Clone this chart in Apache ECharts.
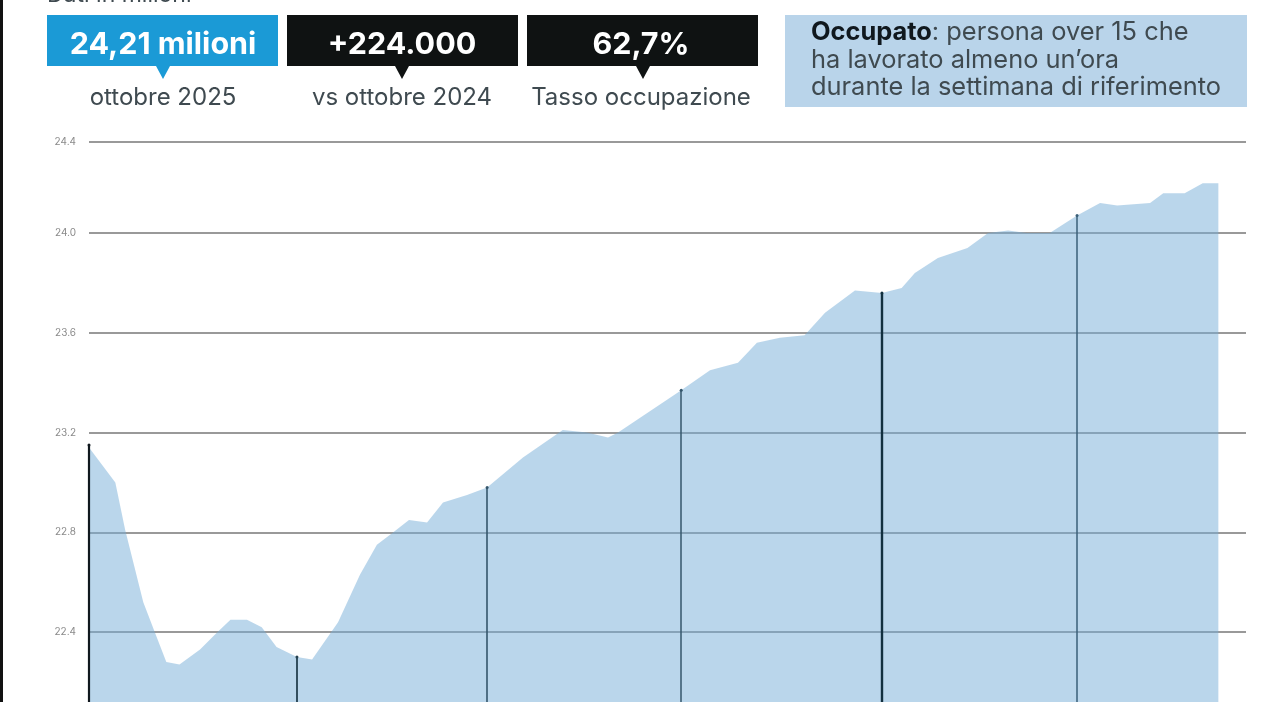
<!DOCTYPE html>
<html>
<head>
<meta charset="utf-8">
<title>Occupati in Italia</title>
<script src="https://cdn.jsdelivr.net/npm/echarts@6/dist/echarts.min.js"></script>
<style>
	html, body { margin: 0; padding: 0; background: #fff; }
	#main { width: 1280px; height: 702px; }
</style>
</head>
<body>
<div id="main"></div>
<script>
// mesi dall'inizio del 2020, come
var months = [0, 1.6, 2.2, 3.3, 4.0, 4.7, 5.5, 6.75, 7.8, 8.6, 9.6, 10.5, 11.4, 12.64, 13.56, 15.14, 16.47, 17.5, 18.48, 19.45, 20.55, 21.52, 22.98, 24.2, 26.38, 28.8, 30.27, 31.55, 32.16, 36.0, 37.75, 39.45, 40.6, 42.0, 43.5, 44.74, 46.56, 48.2, 49.4, 50.2, 51.6, 53.4, 54.65, 55.87, 57.0, 58.4, 60.06, 61.46, 62.5, 64.5, 65.3, 66.6, 67.7, 68.65];
// occupati, milioni
var occupati = [23.14, 23.00, 22.81, 22.52, 22.40, 22.28, 22.27, 22.33, 22.40, 22.45, 22.45, 22.42, 22.34, 22.30, 22.29, 22.44, 22.63, 22.75, 22.80, 22.85, 22.84, 22.92, 22.95, 22.98, 23.10, 23.21, 23.20, 23.18, 23.20, 23.37, 23.45, 23.48, 23.56, 23.58, 23.59, 23.68, 23.77, 23.76, 23.78, 23.84, 23.90, 23.94, 24.00, 24.01, 24.00, 24.00, 24.07, 24.12, 24.11, 24.12, 24.16, 24.16, 24.20, 24.20];
// linee verticali di inizio anno
var yearMonths = [0, 12.64, 24.2, 36.0, 48.2, 60.06];
var yearTops = [23.15, 22.30, 22.98, 23.37, 23.76, 24.07];
var yearWidths = [2.2, 1.8, 1.6, 1.5, 2.4, 1.5];
var yearColors = ['#10181e', '#24404f', '#35566b', '#35566b', '#12303f', '#3a5f78'];
// tacche asse y (la riga in alto e' piu' vicina alle altre nell'originale)
var yTicks = [22.4, 22.8, 23.2, 23.6, 24.0, 24.365];

var yMin = 22.12;
var yMax = 24.365;

var seriesData = [];
for (var i = 0; i < months.length; i++) {
	seriesData.push([months[i], occupati[i]]);
}
var yearLines = [];
for (var k = 0; k < yearMonths.length; k++) {
	yearLines.push([
		{ coord : [yearMonths[k], yMin], symbol : 'none' },
		{
			coord : [yearMonths[k], yearTops[k]],
			symbol : 'circle',
			symbolSize : 3,
			lineStyle : { color : yearColors[k], width : yearWidths[k], type : 'solid' },
			itemStyle : { color : yearColors[k] }
		}
	]);
}

var fontName = 'Inter, "Noto Sans", sans-serif';

function boxText(x, txt) {
	return {
		type : 'text', x : x, y : 45, z : 10,
		style : { text : txt, font : 'bold 30.5px ' + fontName, fill : '#fff', align : 'center', verticalAlign : 'middle' }
	};
}
function captionText(x, txt) {
	return {
		type : 'text', x : x, y : 98, z : 10,
		style : { text : txt, font : '24px ' + fontName, fill : '#3f4a50', align : 'center', verticalAlign : 'middle' }
	};
}
function box(x, w, color) {
	return { type : 'rect', shape : { x : x, y : 15, width : w, height : 51 }, style : { fill : color }, z : 9 };
}
function notch(x, color) {
	return { type : 'polygon', shape : { points : [[x - 7, 66], [x + 7, 66], [x, 79]] }, style : { fill : color }, z : 9 };
}

var myChart = echarts.init(document.getElementById('main'), null, { renderer : 'canvas' });
var option = {
	animation : false,
	backgroundColor : '#fff',
	grid : { left : 89, right : 34, top : 142, bottom : 0 },
	xAxis : {
		type : 'value',
		min : 0,
		max : 70.33,
		show : false
	},
	yAxis : {
		type : 'value',
		min : yMin,
		max : yMax,
		axisLine : { show : false },
		axisTick : { show : false, customValues : yTicks },
		axisLabel : {
			customValues : yTicks,
			margin : 13,
			fontSize : 10,
			fontFamily : fontName,
			color : '#8a8a8a',
			formatter : function(v) { return v.toFixed(1); }
		},
		splitLine : { show : true, lineStyle : { color : '#777', width : 1.5 } }
	},
	series : [
		{
			name : 'Occupati',
			type : 'line',
			data : seriesData,
			showSymbol : false,
			symbol : 'none',
			lineStyle : { width : 0 },
			areaStyle : { color : 'rgba(117,173,215,0.5)', opacity : 1, origin : 'start' },
			markLine : {
				silent : true,
				animation : false,
				label : { show : false },
				data : yearLines
			}
		}
	],
	graphic : [
		{ type : 'rect', shape : { x : 0, y : 0, width : 3, height : 702 }, style : { fill : '#111' } },
		{
			type : 'text', x : 47, y : -5,
			style : { text : 'Dati in milioni', font : '23px ' + fontName, fill : '#3f4a50', verticalAlign : 'middle' }
		},
		box(47, 231, '#1b9ad6'), notch(163, '#1b9ad6'),
		box(287, 231, '#0f1212'), notch(402, '#0f1212'),
		box(527, 231, '#0f1212'), notch(643, '#0f1212'),
		boxText(163, '24,21 milioni'),
		boxText(402, '+224.000'),
		boxText(641, '62,7%'),
		captionText(163, 'ottobre 2025'),
		captionText(402, 'vs ottobre 2024'),
		captionText(641, 'Tasso occupazione'),
		{ type : 'rect', shape : { x : 785, y : 15, width : 462, height : 92 }, style : { fill : '#b9d4ea' }, z : 9 },
		{
			type : 'text', x : 811, y : 19, z : 10,
			style : {
				text : '{b|Occupato}: persona over 15 che\nha lavorato almeno un\u2019ora\ndurante la settimana di riferimento',
				font : '25.4px ' + fontName,
				fill : '#3f4a50',
				lineHeight : 27.5,
				rich : {
					b : { font : 'bold 25.4px ' + fontName, fill : '#10181e', lineHeight : 27.5 }
				}
			}
		}
	]
};
myChart.setOption(option);
</script>
</body>
</html>
